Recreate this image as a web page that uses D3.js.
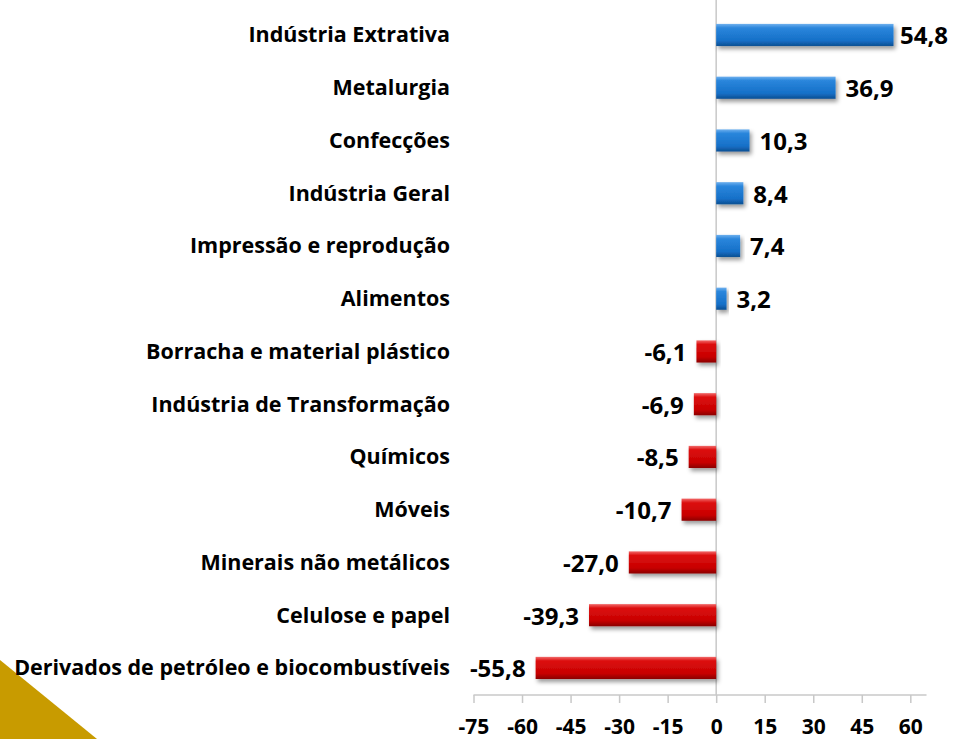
<!DOCTYPE html>
<html>
<head>
<meta charset="utf-8">
<script src="https://cdn.jsdelivr.net/npm/d3@7"></script>
<style>
  body { margin: 0; background: #fff; }
  text { font-family: "Open Sans", sans-serif; font-weight: bold; fill: #000; }
</style>
</head>
<body>
<div id="chart"></div>
<script>
// categories and values, top to bottom
var categories = [
  "Indústria Extrativa",
  "Metalurgia",
  "Confecções",
  "Indústria Geral",
  "Impressão e reprodução",
  "Alimentos",
  "Borracha e material plástico",
  "Indústria de Transformação",
  "Químicos",
  "Móveis",
  "Minerais não metálicos",
  "Celulose e papel",
  "Derivados de petróleo e biocombustíveis"
];
var values = [54.8, 36.9, 10.3, 8.4, 7.4, 3.2, -6.1, -6.9, -8.5, -10.7, -27.0, -39.3, -55.8];
var tickValues = [-75, -60, -45, -30, -15, 0, 15, 30, 45, 60];

var svgWidth = 953;
var svgHeight = 739;

var svg = d3.select("#chart")
  .append("svg")
  .attr("width", svgWidth)
  .attr("height", svgHeight);

var defs = svg.append("defs");

// bar gradients (top highlight, darker bottom)
var blue = defs.append("linearGradient").attr("id", "gBlue")
  .attr("x1", 0).attr("y1", 0).attr("x2", 0).attr("y2", 1);
blue.append("stop").attr("offset", "0%").attr("stop-color", "#6fb0ee");
blue.append("stop").attr("offset", "18%").attr("stop-color", "#2a86dc");
blue.append("stop").attr("offset", "75%").attr("stop-color", "#1670c8");
blue.append("stop").attr("offset", "100%").attr("stop-color", "#0d4f92");

var red = defs.append("linearGradient").attr("id", "gRed")
  .attr("x1", 0).attr("y1", 0).attr("x2", 0).attr("y2", 1);
red.append("stop").attr("offset", "0%").attr("stop-color", "#f26a6a");
red.append("stop").attr("offset", "18%").attr("stop-color", "#dc1010");
red.append("stop").attr("offset", "75%").attr("stop-color", "#c80000");
red.append("stop").attr("offset", "100%").attr("stop-color", "#8a0000");

var shadow = defs.append("filter").attr("id", "shadow")
  .attr("x", "-10%").attr("y", "-30%").attr("width", "130%").attr("height", "180%");
shadow.append("feDropShadow")
  .attr("dx", 2).attr("dy", 3).attr("stdDeviation", 2)
  .attr("flood-color", "#000").attr("flood-opacity", 0.4);

// gold corner decoration
svg.append("path")
  .attr("d", "M0,660 L97,739 L0,739 Z")
  .attr("fill", "#c89b00");

// scales
var x = d3.scaleLinear()
  .domain([-75, 65])
  .range([473.5, 926.5]);

var y = d3.scaleBand()
  .domain(categories)
  .range([8.6, 694.3])
  .paddingInner(0.58)
  .paddingOuter(0.29);

// zero line
svg.append("line")
  .attr("x1", x(0)).attr("x2", x(0))
  .attr("y1", 0).attr("y2", 695)
  .attr("stroke", "#c8c8c8")
  .attr("stroke-width", 1.5);

// bottom axis
var axis = svg.append("g")
  .attr("transform", "translate(0,695)")
  .call(d3.axisBottom(x).tickValues(tickValues).tickSize(8).tickPadding(16)
    .tickFormat(d => d < 0 ? "-" + Math.abs(d) : String(d)));
axis.select(".domain").attr("stroke", "#c8c8c8").attr("stroke-width", 1.5)
  .attr("d", "M" + x(-75) + ",0H" + x(65));
axis.selectAll(".tick line").attr("stroke", "#c8c8c8").attr("stroke-width", 1.5);
axis.selectAll(".tick text")
  .style("font-size", "21px")
  .style("font-family", "'Open Sans', sans-serif")
  .style("font-weight", "bold")
  .attr("fill", "#000");

var data = categories.map((c, i) => ({ name: c, value: values[i] }));

// bars
svg.selectAll(".bar")
  .data(data)
  .enter()
  .append("rect")
  .attr("class", "bar")
  .attr("x", d => x(Math.min(0, d.value)))
  .attr("y", d => y(d.name))
  .attr("width", d => Math.abs(x(d.value) - x(0)))
  .attr("height", y.bandwidth())
  .attr("fill", d => d.value >= 0 ? "url(#gBlue)" : "url(#gRed)")
  .attr("filter", "url(#shadow)");

// category labels
svg.selectAll(".cat")
  .data(data)
  .enter()
  .append("text")
  .attr("class", "cat")
  .attr("x", 450)
  .attr("y", d => y(d.name) + y.bandwidth() / 2)
  .attr("dy", "0.35em")
  .attr("text-anchor", "end")
  .style("font-size", "21.5px")
  .text(d => d.name);

// value labels
svg.selectAll(".val")
  .data(data)
  .enter()
  .append("text")
  .attr("class", "val")
  .attr("y", d => y(d.name) + y.bandwidth() / 2 + 1)
  .attr("dy", "0.35em")
  .style("font-size", "24px")
  .text(d => d.value.toFixed(1).replace(".", ","))
  .attr("x", function(d) {
    if (d.value < 0) return x(d.value) - 10 - this.getComputedTextLength();
    var w = this.getComputedTextLength();
    return Math.min(x(d.value) + 10, svgWidth - 5 - w);
  });
</script>
</body>
</html>
